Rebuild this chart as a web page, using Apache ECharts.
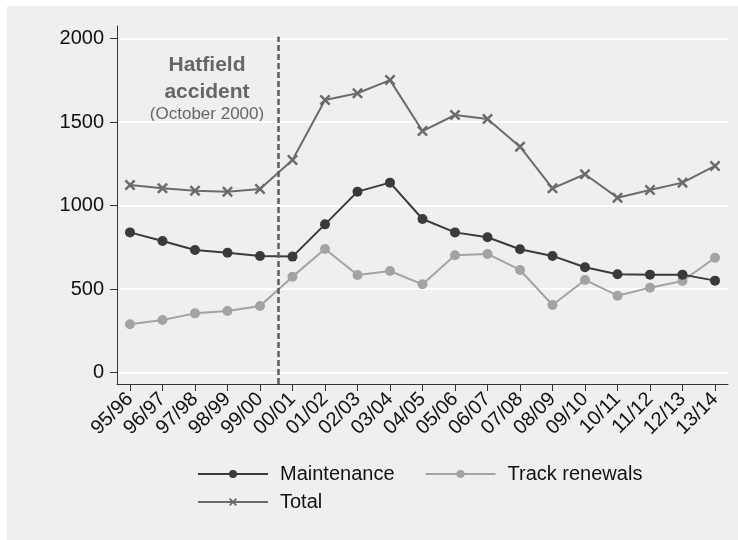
<!DOCTYPE html>
<html><head><meta charset="utf-8">
<script src="https://cdn.jsdelivr.net/npm/echarts@6/dist/echarts.min.js"></script>
<style>
html,body{margin:0;padding:0;background:#fff}
#c{width:738px;height:540px;background:linear-gradient(#efefef,#efefef) 7px 6px / 731px 534px no-repeat,#fff}
</style>
</head><body><div id="c"></div>
<script>
const categories = ['95/96','96/97','97/98','98/99','99/00','00/01','01/02','02/03','03/04','04/05','05/06','06/07','07/08','08/09','09/10','10/11','11/12','12/13','13/14'];
const maintenance = [839,787,733,717,698,694,887,1083,1137,919,839,810,738,698,630,588,586,586,550];
const trackRenewals = [289,314,354,368,398,574,740,584,608,528,702,710,614,404,554,460,508,548,687];
const total = [1123,1103,1089,1083,1099,1272,1632,1672,1751,1446,1542,1518,1352,1103,1187,1047,1093,1137,1237];
const yTicks = [0,500,1000,1500,2000];
const hatfieldPos = 4.56;
const hatfieldTop = 2010;

const FONT = 'Liberation Sans, Arial, sans-serif';
const xIdx = categories.map((c,i)=>i);
const pairs = arr => arr.map((v,i)=>[i,v]);
const crossPath = 'path://M0,1.6L1.6,0L5,3.4L8.4,0L10,1.6L6.6,5L10,8.4L8.4,10L5,6.6L1.6,10L0,8.4L3.4,5Z';

const chart = echarts.init(document.getElementById('c'), null, {renderer:'canvas'});
chart.setOption({
  animation:false,
  backgroundColor:'transparent',
  textStyle:{fontFamily:FONT},
  grid:{left:117, right:10, top:26, bottom:156, containLabel:false},
  xAxis:{
    type:'value', min:-0.4, max:18.4,
    axisLine:{show:true, onZero:false, lineStyle:{color:'#333', width:1}},
    axisTick:{show:true, customValues:xIdx, length:7, lineStyle:{color:'#333'}},
    axisLabel:{show:true, customValues:xIdx, rotate:45, margin:12, fontSize:20, color:'#111', fontFamily:FONT,
      formatter:v=>categories[Math.round(v)]},
    splitLine:{show:false}
  },
  yAxis:{
    type:'value', min:-69, max:2075,
    axisLine:{show:true, onZero:false, lineStyle:{color:'#333', width:1}},
    axisTick:{show:true, customValues:yTicks, length:7, lineStyle:{color:'#333'}},
    axisLabel:{show:true, customValues:yTicks, margin:13, fontSize:20, color:'#111', fontFamily:FONT,
      formatter:v=>String(v)},
    splitLine:{show:true, lineStyle:{color:'#ffffff', width:2}}
  },
  legend:[
    {data:['Maintenance','Track renewals'], left:197, top:464, padding:0, itemWidth:70, itemHeight:10, itemGap:30,
     formatter:n=>'{t|'+n+'}', textStyle:{rich:{t:{fontSize:20, color:'#111', fontFamily:FONT, padding:[0,0,0,7]}}}},
    {data:['Total'], left:197, top:492, padding:0, itemWidth:70, itemHeight:10,
     formatter:n=>'{t|'+n+'}', textStyle:{rich:{t:{fontSize:20, color:'#111', fontFamily:FONT, padding:[0,0,0,7]}}}}
  ],
  graphic:[
    {type:'text', x:207, y:65, style:{text:'Hatfield', font:'bold 21px '+FONT, fill:'#666', align:'center', verticalAlign:'middle'}},
    {type:'text', x:207, y:92, style:{text:'accident', font:'bold 21px '+FONT, fill:'#666', align:'center', verticalAlign:'middle'}},
    {type:'text', x:207, y:114, style:{text:'(October 2000)', font:'17px '+FONT, fill:'#666', align:'center', verticalAlign:'middle'}}
  ],
  series:[
    {name:'Maintenance', type:'line', data:pairs(maintenance), symbol:'circle', symbolSize:10,
     itemStyle:{color:'#3a3a3a'}, lineStyle:{color:'#3a3a3a', width:2}, z:4},
    {name:'Track renewals', type:'line', data:pairs(trackRenewals), symbol:'circle', symbolSize:10,
     itemStyle:{color:'#a3a3a3'}, lineStyle:{color:'#a3a3a3', width:2}, z:3},
    {name:'Total', type:'line', data:pairs(total), symbol:crossPath, symbolSize:11,
     itemStyle:{color:'#6b6b6b'}, lineStyle:{color:'#6b6b6b', width:2}, z:3,
     markLine:{silent:true, symbol:['none','none'], label:{show:false},
       lineStyle:{type:[6,3], color:'#5e5e5e', width:2.5},
       data:[[{coord:[hatfieldPos,-69]},{coord:[hatfieldPos,hatfieldTop]}]]}}
  ]
});
</script>
</body></html>
